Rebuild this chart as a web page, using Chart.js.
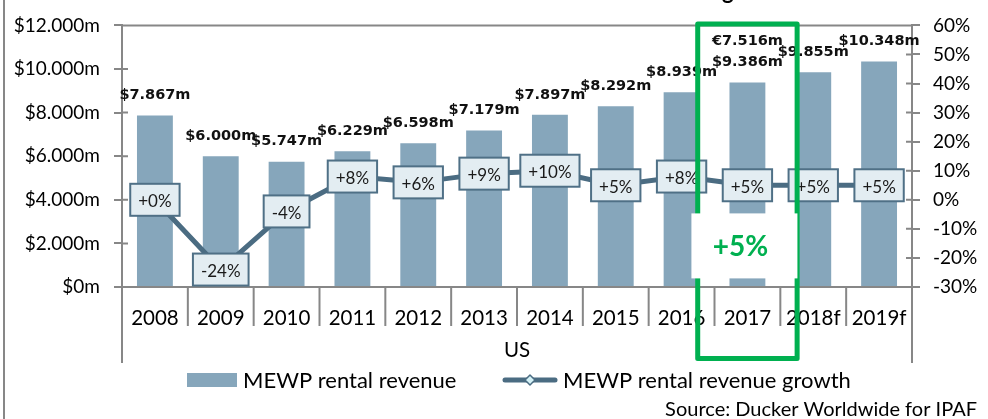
<!DOCTYPE html>
<html>
<head>
<meta charset="utf-8">
<script src="https://cdn.jsdelivr.net/npm/chart.js@4.4.1/dist/chart.umd.min.js"></script>
<style>
  html, body { margin: 0; padding: 0; background: #fff; }
  canvas { display: block; }
</style>
</head>
<body>
<canvas id="myChart" width="988" height="419"></canvas>
<script>
// data
var categories = ["2008", "2009", "2010", "2011", "2012", "2013", "2014", "2015", "2016", "2017", "2018f", "2019f"];
var revenue = [7867, 6000, 5747, 6229, 6598, 7179, 7897, 8292, 8939, 9386, 9855, 10348];
var growth = [0, -24, -4, 8, 6, 9, 10, 5, 8, 5, 5, 5];
var euroRevenue = [null, null, null, null, null, null, null, null, null, 7516, null, null];
var groupLabel = "US";
var calloutIndex = 9;
var calloutText = "+5%";

var barColor = "#86a6bb";
var lineColor = "#4b6c82";
var axisColor = "#878787";
var green = "#00b050";

function money(v) {
  return v === 0 ? "$0m" : "$" + (v / 1000).toFixed(3) + "m";
}
function pct(v) {
  return (v >= 0 ? "+" : "") + v + "%";
}

// 축, 라벨 상자, 강조 상자 등을 직접 그림
var extras = {
  id: "extras",
  afterDatasetsDraw: function (chart) {
    var ctx = chart.ctx;
    var x = chart.scales.x;
    var y = chart.scales.y;
    var y1 = chart.scales.y1;
    var area = chart.chartArea;
    var cw = x.width / categories.length;
    ctx.save();

    // frame lines
    ctx.strokeStyle = axisColor;
    ctx.lineWidth = 2;
    ctx.beginPath();
    ctx.moveTo(4, 0); ctx.lineTo(4, 419);
    ctx.moveTo(area.left, area.top); ctx.lineTo(area.right, area.top);
    ctx.moveTo(area.left - 8, area.bottom); ctx.lineTo(area.right + 8, area.bottom);
    ctx.moveTo(area.left, area.bottom); ctx.lineTo(area.left, area.bottom + 76);
    ctx.moveTo(area.right, area.bottom); ctx.lineTo(area.right, area.bottom + 76);
    for (var i = 1; i < categories.length; i++) {
      var bx = x.getPixelForValue(i) - cw / 2;
      ctx.moveTo(bx, area.bottom); ctx.lineTo(bx, area.bottom + 39);
    }
    // inner halves of the crossing tick marks
    y.ticks.forEach(function (t) {
      var ty = y.getPixelForValue(t.value);
      ctx.moveTo(area.left, ty); ctx.lineTo(area.left + 6, ty);
    });
    y1.ticks.forEach(function (t) {
      var ty = y1.getPixelForValue(t.value);
      ctx.moveTo(area.right - 6, ty); ctx.lineTo(area.right, ty);
    });
    ctx.stroke();

    // group label
    ctx.fillStyle = "#000";
    ctx.font = "20.5px Lato";
    ctx.textAlign = "center";
    ctx.textBaseline = "middle";
    ctx.fillText(groupLabel, (area.left + area.right) / 2, area.bottom + 63);

    // bar value labels
    var bars = chart.getDatasetMeta(1).data;
    ctx.font = "bold 14.5px 'DejaVu Sans'";
    ctx.fillStyle = "#111";
    bars.forEach(function (b, i) {
      ctx.fillText(money(revenue[i]), b.x, b.y - 20);
      if (euroRevenue[i] != null) {
        ctx.fillText("€" + (euroRevenue[i] / 1000).toFixed(3) + "m", b.x, b.y - 41);
      }
    });

    // growth label boxes
    var pts = chart.getDatasetMeta(0).data;
    ctx.font = "17px Lato";
    pts.forEach(function (p, i) {
      var t = pct(growth[i]);
      var w = ctx.measureText(t).width + 16;
      var h = 32;
      ctx.fillStyle = "#e3edf2";
      ctx.strokeStyle = "#4f7086";
      ctx.lineWidth = 2;
      ctx.fillRect(p.x - w / 2, p.y - h / 2, w, h);
      ctx.strokeRect(p.x - w / 2, p.y - h / 2, w, h);
      ctx.fillStyle = "#1a1a1a";
      ctx.fillText(t, p.x, p.y + 2);
    });

    // green highlight frame
    var cx = x.getPixelForValue(calloutIndex);
    ctx.strokeStyle = green;
    ctx.lineWidth = 5;
    ctx.lineJoin = "round";
    ctx.strokeRect(cx - cw * 0.755, area.top - 1.5, cw * 1.51, 334.5);
    ctx.fillStyle = "#fff";
    ctx.fillRect(cx - 56, area.top + 188, 106, 65);
    ctx.fillStyle = green;
    ctx.font = "bold 28px Lato";
    ctx.fillText(calloutText, cx - 7, area.top + 222);

    // cropped title descender
    ctx.fillStyle = "#000";
    ctx.font = "bold 22px Lato";
    ctx.textAlign = "left";
    ctx.textBaseline = "alphabetic";
    ctx.fillText("growth", 722, -1);

    // legend
    ctx.textBaseline = "middle";
    ctx.font = "22px Lato";
    ctx.fillStyle = barColor;
    ctx.fillRect(187, 373, 50, 14);
    ctx.fillStyle = "#000";
    ctx.fillText(chart.data.datasets[1].label, 243, 381);
    ctx.strokeStyle = lineColor;
    ctx.lineWidth = 5;
    ctx.lineCap = "round";
    ctx.beginPath();
    ctx.moveTo(505, 380); ctx.lineTo(555, 380);
    ctx.stroke();
    ctx.fillStyle = "#d4f1f6";
    ctx.lineWidth = 1.5;
    ctx.beginPath();
    ctx.moveTo(530, 375); ctx.lineTo(535, 380); ctx.lineTo(530, 385); ctx.lineTo(525, 380);
    ctx.closePath();
    ctx.fill();
    ctx.stroke();
    ctx.fillStyle = "#000";
    ctx.fillText(chart.data.datasets[0].label, 563, 381);

    // source
    ctx.font = "20px Lato";
    ctx.textAlign = "right";
    ctx.fillText("Source: Ducker Worldwide for IPAF", 977, 410);

    ctx.restore();
  }
};

var chartArea = document.getElementById("myChart").getContext("2d");
var myChart = new Chart(chartArea, {
  type: "bar",
  data: {
    labels: categories,
    datasets: [
      {
        type: "line",
        label: "MEWP rental revenue growth",
        data: growth,
        yAxisID: "y1",
        borderColor: lineColor,
        borderWidth: 5,
        pointRadius: 0,
        tension: 0,
        order: 1,
      },
      {
        label: "MEWP rental revenue",
        data: revenue,
        yAxisID: "y",
        backgroundColor: barColor,
        categoryPercentage: 1,
        barPercentage: 0.545,
        order: 2,
      },
    ],
  },
  options: {
    responsive: false,
    animation: false,
    devicePixelRatio: 1,
    layout: { padding: { top: 15, left: 0, right: 0, bottom: 0 } },
    plugins: { legend: { display: false }, tooltip: { enabled: false } },
    scales: {
      x: {
        offset: true,
        grid: { display: false },
        border: { display: false },
        ticks: { color: "#000", font: { family: "Lato", size: 20.5 }, padding: 11, maxRotation: 0 },
        afterFit: function (s) { s.height = 132; },
      },
      y: {
        position: "left",
        min: 0,
        max: 12000,
        ticks: { stepSize: 2000, color: "#000", font: { family: "Lato", size: 19 }, padding: 14, callback: money },
        grid: { drawOnChartArea: false, tickLength: 8, color: axisColor, lineWidth: 2 },
        border: { color: axisColor, width: 2 },
        afterFit: function (s) { s.width = 122; },
      },
      y1: {
        position: "right",
        min: -30,
        max: 60,
        ticks: { stepSize: 10, color: "#000", font: { family: "Lato", size: 19 }, padding: 13, callback: function (v) { return v + "%"; } },
        grid: { drawOnChartArea: false, tickLength: 8, color: axisColor, lineWidth: 2 },
        border: { color: axisColor, width: 2 },
        afterFit: function (s) { s.width = 76; },
      },
    },
  },
  plugins: [extras],
});
</script>
</body>
</html>
